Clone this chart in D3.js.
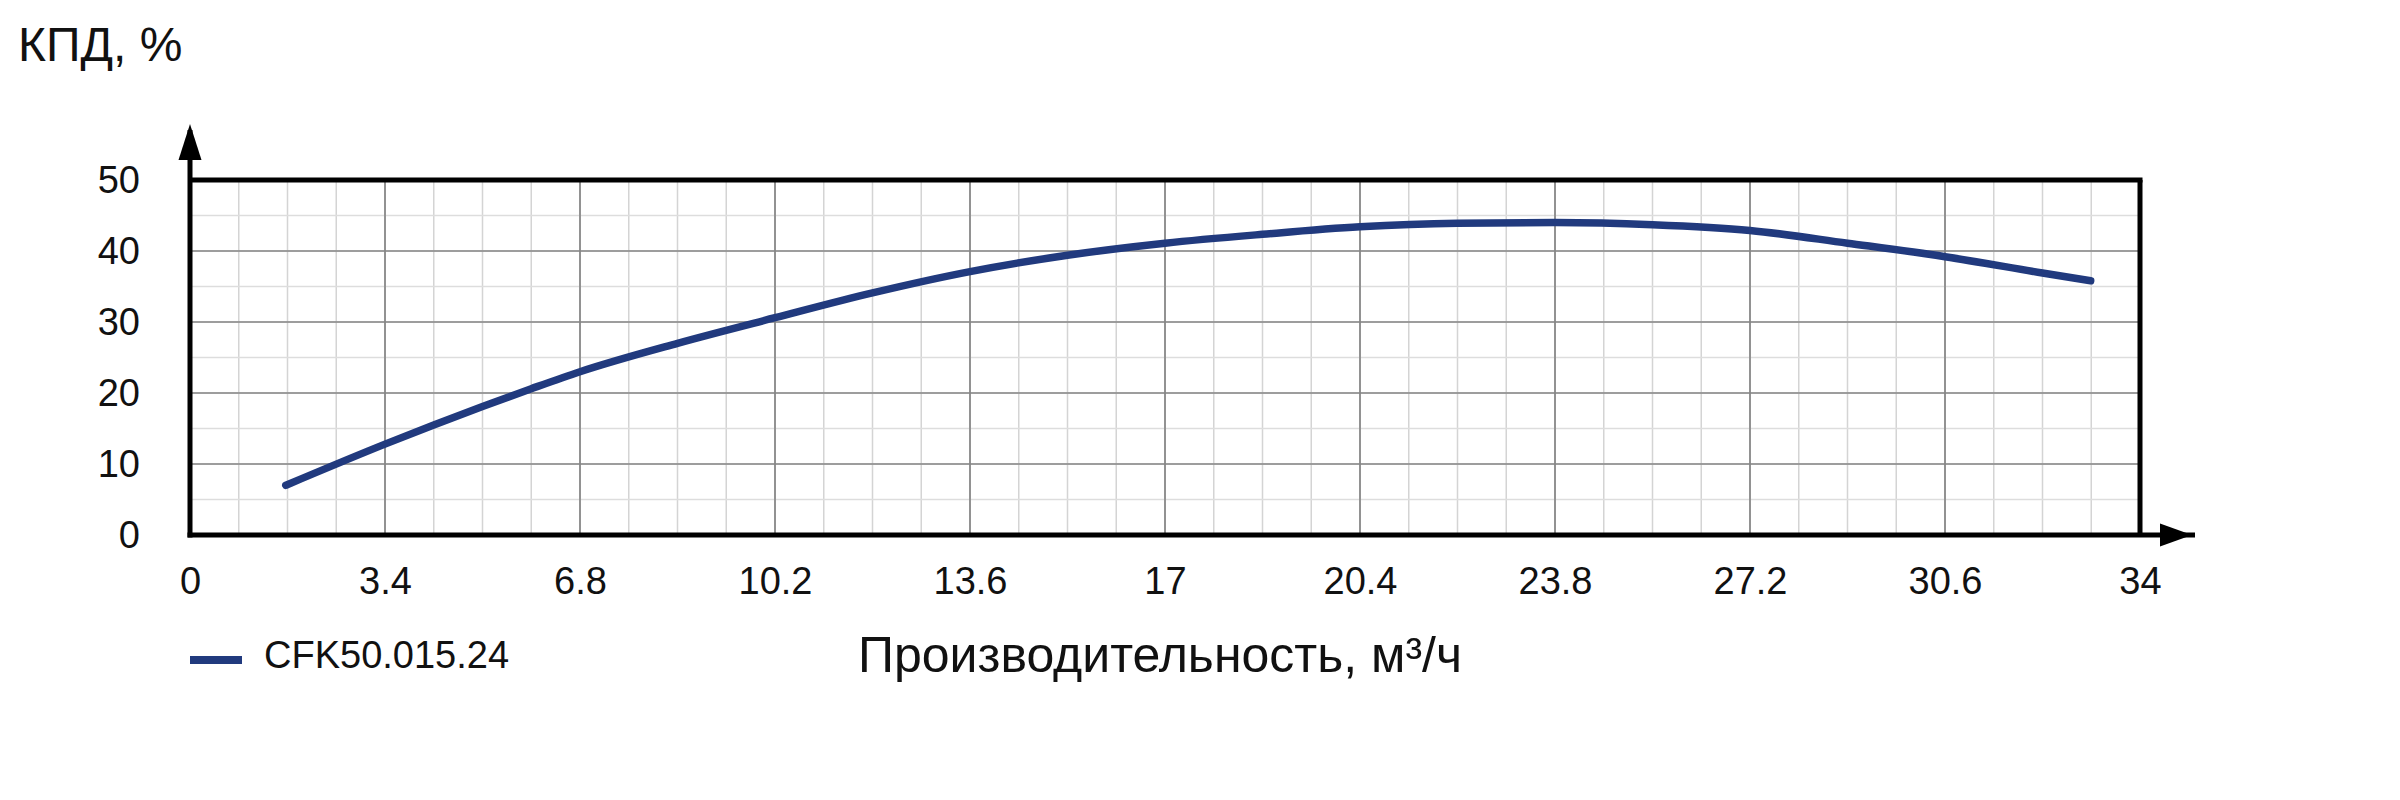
<!DOCTYPE html>
<html>
<head>
<meta charset="utf-8">
<script src="https://cdn.jsdelivr.net/npm/d3@7"></script>
<style>
  html, body { margin: 0; padding: 0; background: #ffffff; }
  svg { display: block; }
  text { font-family: "Liberation Sans", Arial, sans-serif; fill: #111; }
</style>
</head>
<body>
<svg id="chart" width="2400" height="800"></svg>
<script>
// ---- data ----
const seriesName = "CFK50.015.24";
const flow = [1.67, 3.4, 4.25, 5.1, 5.95, 6.8, 8.5, 10.2, 11.9, 13.6, 15.3, 17, 18.7, 20.4, 22.1, 23.8, 25.5, 27.2, 28.9, 30.6, 32.3, 33.14];
const efficiency = [7.0, 12.8, 15.5, 18.1, 20.6, 23.0, 27.0, 30.6, 34.1, 37.1, 39.4, 41.1, 42.35, 43.4, 43.9, 44.0, 43.7, 42.9, 41.1, 39.2, 36.9, 35.8];
const xTicks = [0, 3.4, 6.8, 10.2, 13.6, 17, 20.4, 23.8, 27.2, 30.6, 34];
const xTickLabels = ["0", "3.4", "6.8", "10.2", "13.6", "17", "20.4", "23.8", "27.2", "30.6", "34"];
const yTicks = [0, 10, 20, 30, 40, 50];
const yTitle = "КПД, %";
const xTitle = "Производительность, м³/ч";

// ---- layout ----
const X0 = 190, X1 = 2140, Y0 = 535, Y1 = 180;
const svg = d3.select("#chart");
const x = d3.scaleLinear().domain([0, 34]).range([X0, X1]);
const y = d3.scaleLinear().domain([0, 50]).range([Y0, Y1]);

// minor grid
const xMinor = d3.range(0, 34.0001, 0.85);
const yMinor = d3.range(0, 50.0001, 5);
const grid = svg.append("g");
grid.selectAll("line.vm").data(xMinor).enter().append("line")
  .attr("x1", d => x(d)).attr("x2", d => x(d)).attr("y1", Y1).attr("y2", Y0)
  .attr("stroke", "#d4d4d4").attr("stroke-width", 1.5);
grid.selectAll("line.hm").data(yMinor).enter().append("line")
  .attr("x1", X0).attr("x2", X1).attr("y1", d => y(d)).attr("y2", d => y(d))
  .attr("stroke", "#dddddd").attr("stroke-width", 1.5);
// major grid
grid.selectAll("line.vM").data(xTicks).enter().append("line")
  .attr("x1", d => x(d)).attr("x2", d => x(d)).attr("y1", Y1).attr("y2", Y0)
  .attr("stroke", "#858585").attr("stroke-width", 1.7);
grid.selectAll("line.hM").data(yTicks).enter().append("line")
  .attr("x1", X0).attr("x2", X1).attr("y1", d => y(d)).attr("y2", d => y(d))
  .attr("stroke", "#858585").attr("stroke-width", 1.7);

// frame: top and right
svg.append("line").attr("x1", X0).attr("x2", X1 + 2.5).attr("y1", Y1).attr("y2", Y1)
  .attr("stroke", "#000").attr("stroke-width", 5);
svg.append("line").attr("x1", X1).attr("x2", X1).attr("y1", Y1).attr("y2", Y0)
  .attr("stroke", "#000").attr("stroke-width", 5);

// axes lines with arrows
svg.append("line").attr("x1", X0).attr("x2", X0).attr("y1", Y0 + 2.5).attr("y2", 130)
  .attr("stroke", "#000").attr("stroke-width", 5);
svg.append("path").attr("d", `M${X0 - 11.5},160 L${X0},124 L${X0 + 11.5},160 Z`).attr("fill", "#000");
svg.append("line").attr("x1", X0 - 2.5).attr("x2", 2195).attr("y1", Y0).attr("y2", Y0)
  .attr("stroke", "#000").attr("stroke-width", 5);
svg.append("path").attr("d", `M2160,${Y0 - 11.5} L2192,${Y0} L2160,${Y0 + 11.5} Z`).attr("fill", "#000");

// axis labels via d3 axes
const xAxis = d3.axisBottom(x).tickValues(xTicks).tickSize(0).tickPadding(32)
  .tickFormat((d, i) => xTickLabels[i]);
const gx = svg.append("g").attr("transform", `translate(0,${Y0})`).call(xAxis);
gx.select(".domain").remove();
gx.selectAll("text").style("font-size", "38px").style("font-family", '"Liberation Sans", Arial, sans-serif').attr("fill", "#111");

const yAxis = d3.axisLeft(y).tickValues(yTicks).tickSize(0).tickPadding(50);
const gy = svg.append("g").attr("transform", `translate(${X0},0)`).call(yAxis);
gy.select(".domain").remove();
gy.selectAll("text").style("font-size", "38px").style("font-family", '"Liberation Sans", Arial, sans-serif').attr("fill", "#111");

// curve
const pts = flow.map((q, i) => [q, efficiency[i]]);
const line = d3.line().x(d => x(d[0])).y(d => y(d[1])).curve(d3.curveMonotoneX);
svg.append("path").datum(pts).attr("d", line)
  .attr("fill", "none").attr("stroke", "#213a7e").attr("stroke-width", 7.5)
  .attr("stroke-linecap", "round").attr("stroke-linejoin", "round");

// titles
svg.append("text").attr("x", 18).attr("y", 61).style("font-size", "48px").text(yTitle);
svg.append("text").attr("x", 1160).attr("y", 672).attr("text-anchor", "middle")
  .style("font-size", "50px").text(xTitle);

// legend
svg.append("line").attr("x1", 190).attr("x2", 242).attr("y1", 660).attr("y2", 660)
  .attr("stroke", "#213a7e").attr("stroke-width", 8);
svg.append("text").attr("x", 264).attr("y", 668).style("font-size", "38px").text(seriesName);
</script>
</body>
</html>
